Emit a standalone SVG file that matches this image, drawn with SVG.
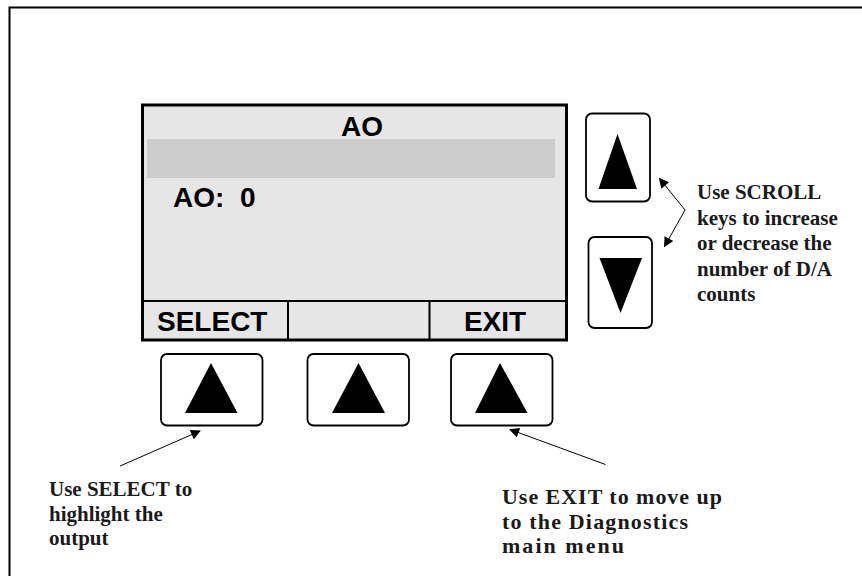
<svg xmlns="http://www.w3.org/2000/svg" width="862" height="576" viewBox="0 0 862 576">
<defs>
<style>
.btn{fill:#ffffff;stroke:#000;stroke-width:1.8}
.tri{fill:#000}
.lcd{font-family:"Liberation Sans",Arial,sans-serif;font-weight:bold;fill:#000}
.note{font-family:"Liberation Serif","Times New Roman",serif;font-weight:bold;font-size:21px;fill:#1a1a1a}
.note2{font-family:"Liberation Serif","Times New Roman",serif;font-weight:bold;font-size:22px;fill:#1a1a1a}
.conn{stroke:#000;stroke-width:1;fill:none}
</style>
<marker id="ah" viewBox="0 0 10 10" refX="9" refY="5" markerWidth="14" markerHeight="10" markerUnits="userSpaceOnUse" orient="auto">
<path d="M0,0 L10,5 L0,10 z" fill="#000"/>
</marker>
</defs>
<rect width="862" height="576" fill="#ffffff"/>
<path d="M9.5,576 V7.5 H862" fill="none" stroke="#000" stroke-width="2"/>

<g id="lcd">
<rect x="142.5" y="105" width="424" height="235" fill="#e6e6e6" stroke="#000" stroke-width="3"/>
<rect x="147" y="139" width="408" height="39" fill="#cccccc"/>
<line x1="142.5" y1="301" x2="566.5" y2="301" stroke="#000" stroke-width="2"/>
<line x1="288" y1="301" x2="288" y2="340" stroke="#000" stroke-width="2"/>
<line x1="429.5" y1="301" x2="429.5" y2="340" stroke="#000" stroke-width="2"/>
<text class="lcd" x="362" y="136" font-size="28" text-anchor="middle">AO</text>
<text class="lcd" x="173" y="207" font-size="28" xml:space="preserve">AO:  0</text>
<text class="lcd" x="157" y="331" font-size="28">SELECT</text>
<text class="lcd" x="495" y="331" font-size="28" text-anchor="middle">EXIT</text>
</g>

<g id="btn-up">
<rect class="btn" x="586" y="113.5" width="64" height="88" rx="6"/>
<polygon class="tri" points="617.5,134 598.5,189 637,189"/>
</g>
<g id="btn-down">
<rect class="btn" x="588.5" y="237" width="63.5" height="91" rx="6"/>
<polygon class="tri" points="599.5,258 642,258 620.5,313"/>
</g>
<g id="btn-select">
<rect class="btn" x="161" y="354" width="101.5" height="71.5" rx="6"/>
<polygon class="tri" points="211,363 185,413 237.5,413"/>
</g>
<g id="btn-middle">
<rect class="btn" x="307.5" y="354" width="101.5" height="71.5" rx="6"/>
<polygon class="tri" points="358.5,363 332,413 385,413"/>
</g>
<g id="btn-exit">
<rect class="btn" x="451" y="354" width="101.5" height="71.5" rx="6"/>
<polygon class="tri" points="500,363 475,413 527.5,413"/>
</g>

<g id="connectors">
<line class="conn" x1="685" y1="210" x2="659.5" y2="178.5" marker-end="url(#ah)"/>
<line class="conn" x1="685" y1="210" x2="664.5" y2="246.5" marker-end="url(#ah)"/>
<line class="conn" x1="120" y1="466" x2="200" y2="431" marker-end="url(#ah)"/>
<line class="conn" x1="605.5" y1="464.5" x2="510" y2="429.5" marker-end="url(#ah)"/>
</g>

<g id="note-scroll">
<text class="note" x="697" y="199">Use SCROLL</text>
<text class="note" x="697" y="224.5">keys to increase</text>
<text class="note" x="697" y="250">or decrease the</text>
<text class="note" x="697" y="275.5">number of D/A</text>
<text class="note" x="697" y="301">counts</text>
</g>
<g id="note-select">
<text class="note" x="49" y="496">Use SELECT to</text>
<text class="note" x="49" y="520.5">highlight the</text>
<text class="note" x="49" y="545">output</text>
</g>
<g id="note-exit">
<text class="note2" x="502" y="504" textLength="220" lengthAdjust="spacing">Use EXIT to move up</text>
<text class="note2" x="502" y="528.5" textLength="186" lengthAdjust="spacing">to the Diagnostics</text>
<text class="note2" x="502" y="553" textLength="122" lengthAdjust="spacing">main menu</text>
</g>
</svg>
